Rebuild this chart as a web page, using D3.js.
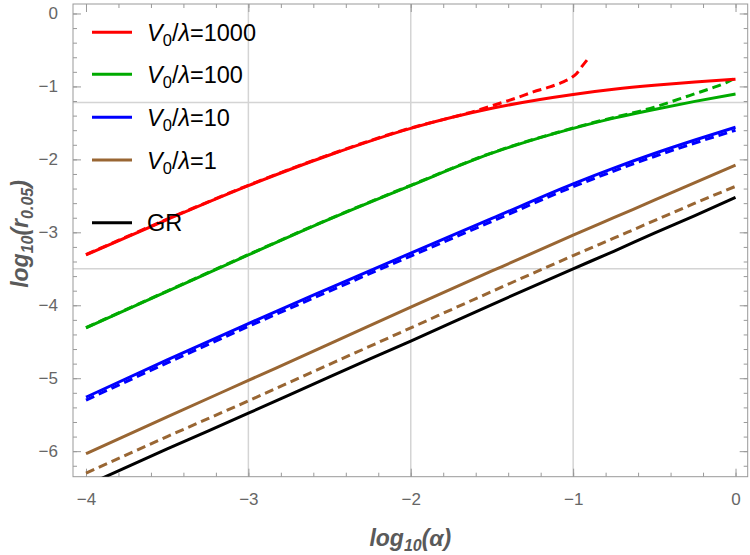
<!DOCTYPE html>
<html>
<head>
<meta charset="utf-8">
<script src="https://cdn.jsdelivr.net/npm/d3@7"></script>
<style>
  html, body { margin: 0; padding: 0; background: #fff; }
  svg { display: block; font-family: "Liberation Sans", Arial, sans-serif; }
</style>
</head>
<body>
<svg id="chart" width="750" height="555"></svg>
<script>
// ---------- data (log10 alpha -> log10 r_0.05) ----------
const alphaFull = [-4, -3.5, -3, -2.5, -2, -1.5, -1, -0.75, -0.5, -0.25, 0];

const red1000   = [-3.31, -2.825, -2.36, -1.94, -1.575, -1.30, -1.11, -1.04, -0.985, -0.94, -0.90];
const green100  = [-4.31, -3.81, -3.31, -2.82, -2.36, -1.915, -1.575, -1.435, -1.315, -1.205, -1.105];
const blue10    = [-5.26, -4.75, -4.25, -3.765, -3.285, -2.81, -2.335, -2.12, -1.92, -1.735, -1.56];
const brown1    = [-6.035, -5.53, -5.03, -4.53, -4.025, -3.53, -3.04, -2.80, -2.56, -2.32, -2.08];
const grLine    = [-6.47, -5.97, -5.48, -4.98, -4.49, -3.99, -3.50, -3.26, -3.01, -2.77, -2.52];

const blue10Dash  = [-5.30, -4.79, -4.29, -3.805, -3.325, -2.85, -2.375, -2.16, -1.96, -1.775, -1.60];
const brown1Dash  = [-6.30, -5.80, -5.31, -4.81, -4.31, -3.81, -3.32, -3.08, -2.84, -2.60, -2.37];

const alphaGreenDash = [-4, -3.5, -3, -2.5, -2, -1.5, -1, -0.75, -0.6, -0.5, -0.35, -0.25, -0.15, -0.06, 0];
const green100Dash   = [-4.305, -3.805, -3.305, -2.815, -2.355, -1.91, -1.57, -1.425, -1.345, -1.285, -1.175, -1.10, -1.025, -0.95, -0.885];

const alphaRedDash = [-4, -3.5, -3, -2.5, -2, -1.75, -1.6, -1.451, -1.348, -1.246, -1.143, -1.061, -1.009, -0.978, -0.948, -0.907];
const red1000Dash  = [-3.305, -2.82, -2.355, -1.935, -1.57, -1.425, -1.335, -1.231, -1.157, -1.075, -1.006, -0.938, -0.878, -0.823, -0.732, -0.617];

const xTicks = [-4, -3, -2, -1, 0];
const yTicks = [0, -1, -2, -3, -4, -5, -6];
const xGrid = [-3, -2, -1];
const yGrid = [-1.22, -3.5];

const legendLabels = ["1000", "100", "10", "1"];
const legendColors = ["#ff0000", "#00aa00", "#0000ff", "#996633"];

// ---------- layout ----------
const svg = d3.select("#chart");
const L = 73, R = 747.7, T = 4, B = 476.7;
const x = d3.scaleLinear().domain([-4.08, 0.075]).range([L, R]);
const y = d3.scaleLinear().domain([-6.35, 0.13]).range([B, T]);

const tickCol = "#666";
const frameCol = "#999";

svg.append("defs").append("clipPath").attr("id", "clip")
  .append("rect").attr("x", L).attr("y", T).attr("width", R - L).attr("height", B - T);

// grid
const grid = svg.append("g");
grid.selectAll(".gx").data(xGrid).join("line")
  .attr("x1", d => x(d)).attr("x2", d => x(d)).attr("y1", T).attr("y2", B)
  .attr("stroke", "#d4d4d4").attr("stroke-width", 1.5);
grid.selectAll(".gy").data(yGrid).join("line")
  .attr("y1", d => y(d)).attr("y2", d => y(d)).attr("x1", L).attr("x2", R)
  .attr("stroke", "#d4d4d4").attr("stroke-width", 1.5);

// axes (ticks inward on all 4 sides)
const minorX = d3.range(-4, 0.0001, 0.2).map(v => +v.toFixed(2));
const minorY = d3.range(-6.2, 0.1, 0.2).map(v => +v.toFixed(2));

function styleAxis(g) {
  g.select(".domain").remove();
  g.selectAll(".tick line").attr("stroke", frameCol).attr("stroke-width", 1);
  g.selectAll(".tick text").attr("fill", tickCol).attr("font-size", 17);
}
const fmt = d => d === 0 ? "0" : "\u2212" + Math.abs(d);

svg.append("g").attr("transform", `translate(0,${B})`)
  .call(d3.axisBottom(x).tickValues(xTicks).tickFormat(fmt).tickSize(-8).tickPadding(16))
  .call(styleAxis);
svg.append("g").attr("transform", `translate(0,${B})`)
  .call(d3.axisBottom(x).tickValues(minorX).tickFormat("").tickSize(-4))
  .call(styleAxis);
svg.append("g").attr("transform", `translate(0,${T})`)
  .call(d3.axisTop(x).tickValues(xTicks).tickFormat("").tickSize(-8))
  .call(styleAxis);
svg.append("g").attr("transform", `translate(0,${T})`)
  .call(d3.axisTop(x).tickValues(minorX).tickFormat("").tickSize(-4))
  .call(styleAxis);
svg.append("g").attr("transform", `translate(${L},0)`)
  .call(d3.axisLeft(y).tickValues(yTicks).tickFormat(fmt).tickSize(-8).tickPadding(15))
  .call(styleAxis);
svg.append("g").attr("transform", `translate(${L},0)`)
  .call(d3.axisLeft(y).tickValues(minorY).tickFormat("").tickSize(-4))
  .call(styleAxis);
svg.append("g").attr("transform", `translate(${R},0)`)
  .call(d3.axisRight(y).tickValues(yTicks).tickFormat("").tickSize(-8))
  .call(styleAxis);
svg.append("g").attr("transform", `translate(${R},0)`)
  .call(d3.axisRight(y).tickValues(minorY).tickFormat("").tickSize(-4))
  .call(styleAxis);

svg.append("rect").attr("x", L).attr("y", T).attr("width", R - L).attr("height", B - T)
  .attr("fill", "none").attr("stroke", frameCol).attr("stroke-width", 1);

// curves
const line = d3.line().x(d => x(d[0])).y(d => y(d[1])).curve(d3.curveMonotoneX);
const series = [
  { xs: alphaFull, ys: grLine, color: "#000000", dash: null },
  { xs: alphaFull, ys: brown1Dash, color: "#996633", dash: "9,5" },
  { xs: alphaFull, ys: brown1, color: "#996633", dash: null },
  { xs: alphaFull, ys: blue10, color: "#0000ff", dash: null },
  { xs: alphaFull, ys: blue10Dash, color: "#0000ff", dash: "9,5" },
  { xs: alphaFull, ys: green100, color: "#00aa00", dash: null },
  { xs: alphaGreenDash, ys: green100Dash, color: "#00aa00", dash: "9,5" },
  { xs: alphaFull, ys: red1000, color: "#ff0000", dash: null },
  { xs: alphaRedDash, ys: red1000Dash, color: "#ff0000", dash: "9,5" },
];
const plot = svg.append("g").attr("clip-path", "url(#clip)");
plot.selectAll("path.curve").data(series).join("path")
  .attr("class", "curve")
  .attr("d", s => line(s.xs.map((v, i) => [v, s.ys[i]])))
  .attr("fill", "none")
  .attr("stroke", s => s.color)
  .attr("stroke-width", 3)
  .attr("stroke-dasharray", s => s.dash);

// legend
const lg = svg.append("g");
const rowsY = [32.3, 74.3, 117.3, 160];
legendLabels.forEach((lab, i) => {
  lg.append("line").attr("x1", 92).attr("x2", 132).attr("y1", rowsY[i]).attr("y2", rowsY[i])
    .attr("stroke", legendColors[i]).attr("stroke-width", 3);
  const t = lg.append("text").attr("x", 147).attr("y", rowsY[i] + 8.5)
    .attr("font-size", 23.5).attr("fill", "#000");
  t.append("tspan").attr("font-style", "italic").text("V");
  t.append("tspan").attr("font-size", 16.5).attr("dy", 5).text("0");
  t.append("tspan").attr("dy", -5).text("/");
  t.append("tspan").attr("font-style", "italic").text("\u03bb");
  t.append("tspan").text("=" + lab);
});
lg.append("line").attr("x1", 92).attr("x2", 132).attr("y1", 222.7).attr("y2", 222.7)
  .attr("stroke", "#000").attr("stroke-width", 3);
lg.append("text").attr("x", 147).attr("y", 231.2).attr("font-size", 23.5).attr("fill", "#000").text("GR");

// axis labels
const labCol = "#5a5a5a";
const xl = svg.append("text").attr("x", (L + R) / 2).attr("y", 546)
  .attr("text-anchor", "middle").attr("font-size", 23).attr("font-weight", "bold")
  .attr("font-style", "italic").attr("fill", labCol);
xl.append("tspan").text("log");
xl.append("tspan").attr("font-size", 16).attr("dy", 5).text("10");
xl.append("tspan").attr("dy", -5).text("(\u03b1)");

const yl = svg.append("text").attr("transform", "translate(28,234) rotate(-90)")
  .attr("text-anchor", "middle").attr("font-size", 23).attr("font-weight", "bold")
  .attr("font-style", "italic").attr("fill", labCol);
yl.append("tspan").text("log");
yl.append("tspan").attr("font-size", 16).attr("dy", 5).text("10");
yl.append("tspan").attr("dy", -5).text("(r");
yl.append("tspan").attr("font-size", 16).attr("dy", 5).text("0.05");
yl.append("tspan").attr("dy", -5).text(")");
</script>
</body>
</html>
